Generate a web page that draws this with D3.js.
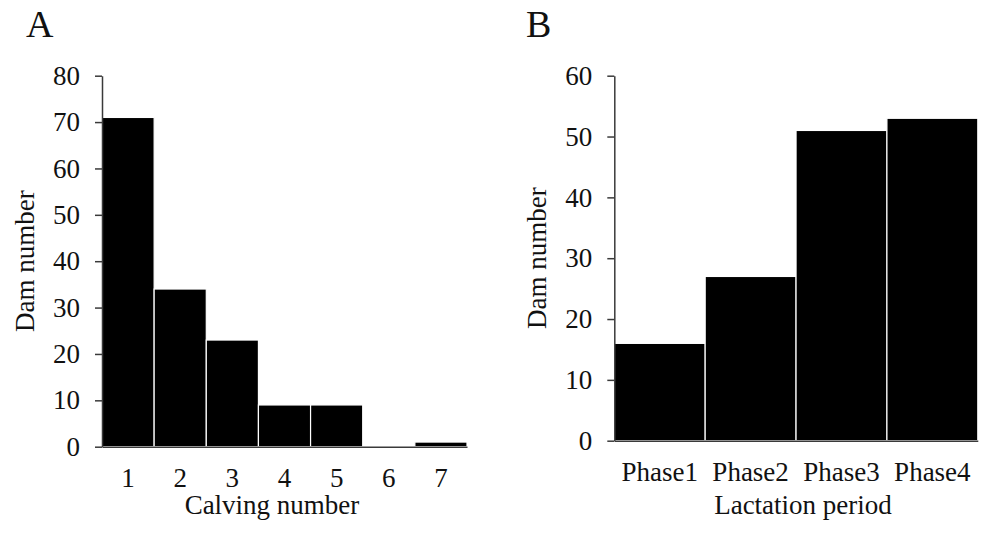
<!DOCTYPE html>
<html>
<head>
<meta charset="utf-8">
<script src="https://cdn.jsdelivr.net/npm/d3@7"></script>
<style>
  body { margin: 0; background: #fff; }
  svg text { font-family: "Liberation Serif", "Times New Roman", serif; fill: #111; }
</style>
</head>
<body>
<div id="chart"></div>
<script>
// Two histogram-style panels: dams by calving number (A) and by lactation phase (B).
const calvingLabels = ['1', '2', '3', '4', '5', '6', '7'];
const calvingCounts = [71, 34, 23, 9, 9, 0, 1];
const calvingTicks = [0, 10, 20, 30, 40, 50, 60, 70, 80];

const phaseLabels = ['Phase1', 'Phase2', 'Phase3', 'Phase4'];
const phaseCounts = [16, 27, 51, 53];
const phaseTicks = [0, 10, 20, 30, 40, 50, 60];

const d3 = window.d3;
const W = 981, H = 538;
const FONT = 27;
const AXIS_COLOR = '#3a3a3a';

const svg = d3.select('#chart').append('svg').attr('width', W).attr('height', H);

// One function per panel layout; bars sit flush against each other (padding 0)
// and a thin white stroke gives the hairline gaps seen in the original.
function drawPanel({ letter, letterX, left, top, width, height, labels, counts, ticks, xTitle, xTitleX }) {
  const g = svg.append('g').attr('transform', `translate(${left},${top})`);

  const x = d3.scaleBand().domain(labels).range([0, width]).padding(0);
  const y = d3.scaleLinear().domain([0, d3.max(ticks)]).range([height, 0]);

  g.selectAll('rect.bar')
    .data(labels.map((l, i) => ({ l, v: counts[i] })).filter((d) => d.v > 0))
    .join('rect')
    .attr('class', 'bar')
    .attr('x', (d) => x(d.l))
    .attr('y', (d) => y(d.v))
    .attr('width', x.bandwidth())
    .attr('height', (d) => height - y(d.v))
    .attr('fill', '#000')
    .attr('stroke', '#fff')
    .attr('stroke-width', 1.2);

  const yAxis = g.append('g')
    .call(d3.axisLeft(y).tickValues(ticks).tickSize(7).tickSizeOuter(0).tickPadding(15));
  const xAxis = g.append('g')
    .attr('transform', `translate(0,${height})`)
    .call(d3.axisBottom(x).tickSize(0).tickSizeOuter(0).tickPadding(21));

  [yAxis, xAxis].forEach((a) => {
    a.attr('font-size', FONT).attr('font-family', null);
    a.selectAll('path, line').attr('stroke', AXIS_COLOR).attr('stroke-width', 1.5);
    a.selectAll('text').attr('fill', '#111');
  });

  svg.append('text')
    .attr('x', xTitleX)
    .attr('y', 514)
    .attr('text-anchor', 'middle')
    .attr('font-size', FONT)
    .text(xTitle);

  svg.append('text')
    .attr('transform', `translate(${left - 68},${top + height / 2}) rotate(-90)`)
    .attr('text-anchor', 'middle')
    .attr('font-size', FONT)
    .text('Dam number');

  svg.append('text')
    .attr('x', letterX)
    .attr('y', 37)
    .attr('font-size', 38)
    .text(letter);
}

drawPanel({
  letter: 'A', letterX: 26,
  left: 102, top: 75.7, width: 365, height: 371,
  labels: calvingLabels, counts: calvingCounts, ticks: calvingTicks,
  xTitle: 'Calving number', xTitleX: 272,
});

drawPanel({
  letter: 'B', letterX: 526,
  left: 614.3, top: 75.7, width: 363.5, height: 365,
  labels: phaseLabels, counts: phaseCounts, ticks: phaseTicks,
  xTitle: 'Lactation period', xTitleX: 803,
});
</script>
</body>
</html>
